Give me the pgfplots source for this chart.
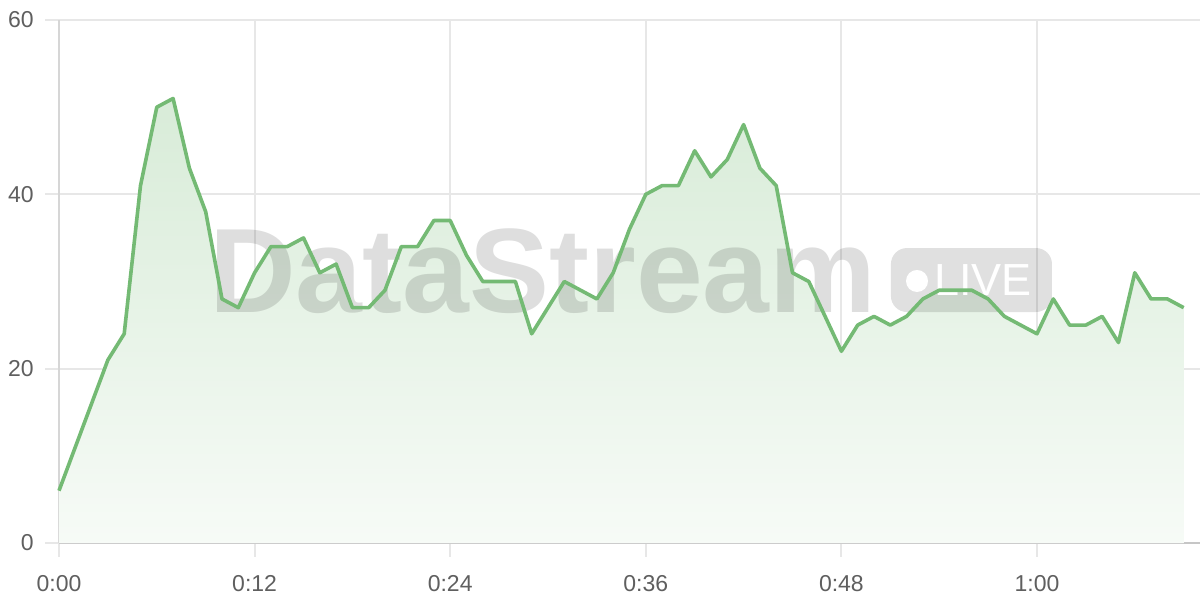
\documentclass[border=0pt]{standalone}
\usepackage{fontspec}
\setmainfont{Liberation Sans}
\usepackage{pgfplots}
\usepackage{pgfplotstable}
\pgfplotsset{compat=1.18}
\definecolor{lc}{RGB}{116,186,116}
\definecolor{tickc}{RGB}{95,95,95}
\definecolor{gridc}{RGB}{231,231,231}
\pgfplotstableread{
x y
0 6
1 11
2 16
3 21
4 24
5 41
6 50
7 51
8 43
9 38
10 28
11 27
12 31
13 34
14 34
15 35
16 31
17 32
18 27
19 27
20 29
21 34
22 34
23 37
24 37
25 33
26 30
27 30
28 30
29 24
30 27
31 30
32 29
33 28
34 31
35 36
36 40
37 41
38 41
39 45
40 42
41 44
42 48
43 43
44 41
45 31
46 30
47 26
48 22
49 25
50 26
51 25
52 26
53 28
54 29
55 29
56 29
57 28
58 26
59 25
60 24
61 28
62 25
63 25
64 26
65 23
66 31
67 28
68 28
69 27
}\datatable
\begin{document}
\begin{tikzpicture}
\begin{axis}[
  scale only axis, width=570.5pt, height=261.5pt,
  xmin=0, xmax=70, ymin=0, ymax=60,
  axis x line*=bottom, axis y line*=left,
  axis line style={-},
  x axis line style={draw=gray!45, line width=1pt},
  y axis line style={draw=gray!32, line width=1pt},
  xtick={0,12,24,36,48,60},
  xticklabels={0:00,0:12,0:24,0:36,0:48,1:00},
  ytick={0,20,40,60},
  grid=major,
  major grid style={draw=gridc, line width=1pt},
  tick align=outside, major tick length=7pt,
  tick style={draw=gridc, line width=1pt},
  tick label style={font=\fontsize{11.5}{13}\selectfont, text=tickc},
  /pgf/number format/assume math mode=true,
  yticklabel style={anchor=east, inner sep=0pt, xshift=-5.5pt},
  xticklabel style={anchor=north, inner sep=0pt, yshift=-9pt},
  clip=false,
]
\addplot[draw=none, top color=lc!28!white, bottom color=lc!6!white] table[x=x,y=y] {\datatable} \closedcycle;
\node[anchor=base west, inner sep=0pt, font=\fontsize{60}{60}\selectfont\bfseries, text=black, text opacity=0.13] at (axis cs:9.2,26.5) {DataStream};
\fill[black, fill opacity=0.12, rounded corners=8pt] (axis cs:51.04,26.5) rectangle (axis cs:60.92,33.84);
\fill[white] (axis cs:52.64,30.06) circle[radius=5.5pt];
\node[anchor=base west, inner sep=0pt, font=\fontsize{22.5}{22.5}\selectfont, text=white] at (axis cs:53.66,28.45) {LIVE};
\addplot[lc, line width=1.8pt, line join=round] table[x=x,y=y] {\datatable};
\end{axis}
\pgfresetboundingbox
\path (-29.5pt,-28.5pt) rectangle (570.5pt,271.5pt);
\end{tikzpicture}
\end{document}
